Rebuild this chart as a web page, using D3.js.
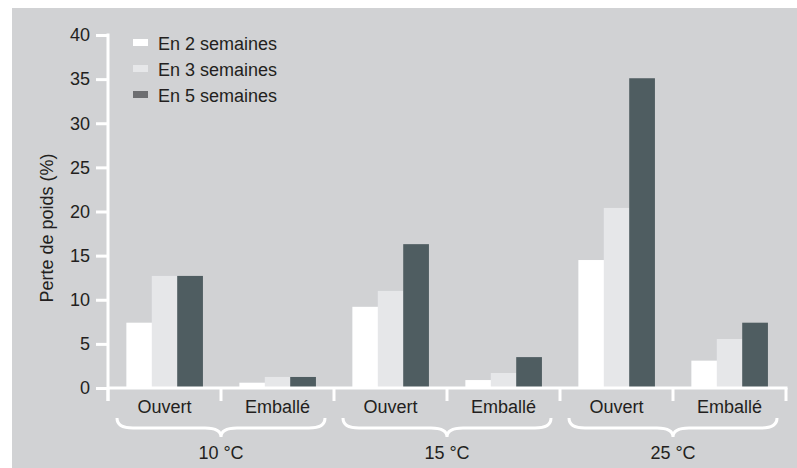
<!DOCTYPE html>
<html>
<head>
<meta charset="utf-8">
<script src="https://cdn.jsdelivr.net/npm/d3@7"></script>
<style>
  html, body { margin: 0; padding: 0; background: #ffffff; }
  svg { display: block; }
  text { font-family: "Liberation Sans", Arial, sans-serif; fill: #231f20; }
</style>
</head>
<body>
<svg id="chart" width="797" height="468"></svg>
<script>
// ---- data ----
const categories = ["Ouvert", "Emballé", "Ouvert", "Emballé", "Ouvert", "Emballé"];
const groups = ["10 °C", "15 °C", "25 °C"];
const seriesNames = ["En 2 semaines", "En 3 semaines", "En 5 semaines"];
const week2 = [7.4, 0.6, 9.2, 0.9, 14.5, 3.1];
const week3 = [12.7, 1.25, 11.0, 1.7, 20.4, 5.55];
const week5 = [12.7, 1.25, 16.3, 3.5, 35.1, 7.4];
const yTicks = [0, 5, 10, 15, 20, 25, 30, 35, 40];
const seriesColors = ["#ffffff", "#e6e7e9", "#4f5d61"];

const series = [week2, week3, week5];

const svg = d3.select("#chart");
const W = 797, H = 468;

// background panel
svg.append("rect").attr("x", 12).attr("y", 8).attr("width", W - 12).attr("height", H - 8).attr("fill", "#d1d2d4");

const x0 = 108, x1 = 786, yBase = 388, yTop = 35;
const idx = d3.range(categories.length);
const x = d3.scaleBand().domain(idx).range([x0, x1]).paddingInner(0).paddingOuter(0);
const y = d3.scaleLinear().domain([0, 40]).range([yBase, yTop]);
const groupW = x.bandwidth() * 0.675;
const xs = d3.scaleBand().domain(d3.range(series.length)).range([0, groupW]).padding(0);

// bars
series.forEach((vals, s) => {
  svg.append("g").selectAll("rect").data(vals).join("rect")
    .attr("x", (d, i) => x(i) + (x.bandwidth() - groupW) / 2 + xs(s))
    .attr("y", d => y(d))
    .attr("width", xs.bandwidth() + 0.3)
    .attr("height", d => yBase - y(d))
    .attr("fill", seriesColors[s]);
});

// y axis
const yAxis = d3.axisLeft(y).tickValues(yTicks).tickSize(12).tickPadding(6);
const gy = svg.append("g").attr("transform", `translate(${x0},0)`).call(yAxis);
gy.select(".domain").remove();
gy.selectAll(".tick line").attr("stroke", "#ffffff").attr("stroke-width", 3);
gy.selectAll(".tick text").attr("font-size", 18).attr("fill", "#231f20")
  .attr("font-family", '"Liberation Sans", Arial, sans-serif');
svg.append("line").attr("x1", x0).attr("x2", x0).attr("y1", yTop - 1.5).attr("y2", yBase + 13)
  .attr("stroke", "#ffffff").attr("stroke-width", 3);

// x baseline
svg.append("line").attr("x1", x0).attr("x2", x1 + 1.5).attr("y1", yBase).attr("y2", yBase)
  .attr("stroke", "#ffffff").attr("stroke-width", 3);
// separator ticks
const seps = idx.map(i => x(i)).concat([x1]);
svg.append("g").selectAll("line").data(seps).join("line")
  .attr("x1", d => d).attr("x2", d => d).attr("y1", yBase).attr("y2", yBase + 13)
  .attr("stroke", "#ffffff").attr("stroke-width", 3);

// category labels
svg.append("g").selectAll("text").data(categories).join("text")
  .attr("x", (d, i) => x(i) + x.bandwidth() / 2)
  .attr("y", 413)
  .attr("text-anchor", "middle")
  .attr("font-size", 18)
  .text(d => d);

// braces and group labels
groups.forEach((g, gi) => {
  const left = x(gi * 2) + 9, right = x(gi * 2 + 1) + x.bandwidth() - 9;
  const c = (left + right) / 2;
  const top = 418, mid = 428, tip = 437;
  const p = d3.path();
  p.moveTo(left, top);
  p.quadraticCurveTo(left, mid, left + 16, mid);
  p.lineTo(c - 16, mid);
  p.quadraticCurveTo(c, mid, c, tip);
  p.quadraticCurveTo(c, mid, c + 16, mid);
  p.lineTo(right - 16, mid);
  p.quadraticCurveTo(right, mid, right, top);
  svg.append("path").attr("d", p.toString()).attr("fill", "none")
    .attr("stroke", "#ffffff").attr("stroke-width", 3);
  svg.append("text").attr("x", c).attr("y", 459).attr("text-anchor", "middle")
    .attr("font-size", 18).text(g);
});

// y title
svg.append("text")
  .attr("transform", "translate(53,228) rotate(-90)")
  .attr("text-anchor", "middle")
  .attr("font-size", 18)
  .text("Perte de poids (%)");

// legend
const lg = svg.append("g");
seriesNames.forEach((n, i) => {
  const yy = 50 + i * 26;
  lg.append("rect").attr("x", 133).attr("y", yy - 11).attr("width", 15).attr("height", 7)
    .attr("fill", i === 2 ? "#6d6e71" : seriesColors[i]);
  lg.append("text").attr("x", 158).attr("y", yy).attr("font-size", 18).text(n);
});
</script>
</body>
</html>
